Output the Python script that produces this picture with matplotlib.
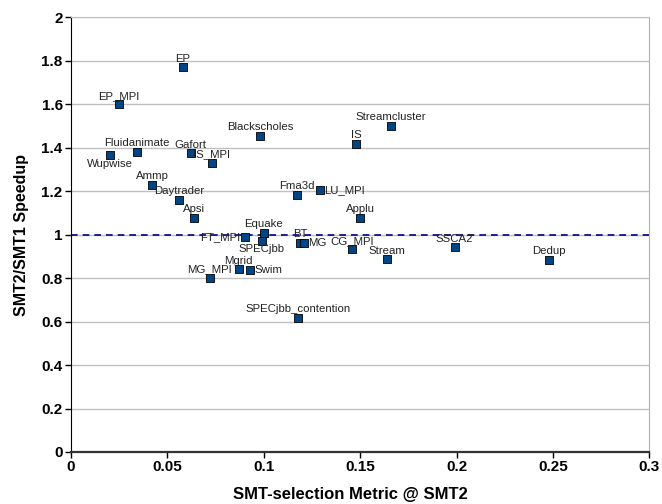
import matplotlib
matplotlib.use("Agg")
import matplotlib.pyplot as plt

# Benchmarks: SMT-selection metric vs. SMT2/SMT1 speedup
names = ["EP", "EP_MPI", "Wupwise", "Fluidanimate", "Gafort", "IS_MPI",
         "Blackscholes", "Ammp", "Daytrader", "Apsi", "Fma3d", "Equake",
         "FT_MPI", "SPECjbb", "Streamcluster", "IS", "LU_MPI", "Applu",
         "BT", "MG", "CG_MPI", "Stream", "Mgrid", "Swim",
         "SPECjbb_contention", "MG_MPI", "SSCA2", "Dedup"]
metric = [0.058, 0.025, 0.020, 0.034, 0.062, 0.073,
          0.098, 0.042, 0.056, 0.064, 0.117, 0.100,
          0.090, 0.099, 0.166, 0.148, 0.129, 0.150,
          0.119, 0.121, 0.146, 0.164, 0.087, 0.093,
          0.118, 0.072, 0.199, 0.248]
speedup = [1.77, 1.60, 1.365, 1.382, 1.375, 1.330,
           1.456, 1.230, 1.161, 1.078, 1.184, 1.009,
           0.988, 0.972, 1.502, 1.419, 1.206, 1.077,
           0.963, 0.963, 0.933, 0.887, 0.842, 0.836,
           0.617, 0.801, 0.943, 0.885]

# where each label goes relative to its point (default: above)
placement = {"Wupwise": "below", "SPECjbb": "below", "FT_MPI": "left",
             "Swim": "right", "MG": "right", "LU_MPI": "right"}

plt.rcParams['font.family'] = ['Liberation Sans', 'DejaVu Sans']

fig = plt.figure(figsize=(6.62, 5.04), dpi=100)
ax = fig.add_axes([0.1073, 0.1032, 0.8735, 0.8625])

ax.set_xlim(0, 0.3)
ax.set_ylim(0, 2)
ax.set_xticks([0, 0.05, 0.1, 0.15, 0.2, 0.25, 0.3])
ax.set_xticklabels(["0", "0.05", "0.1", "0.15", "0.2", "0.25", "0.3"])
ax.set_yticks([0, 0.2, 0.4, 0.6, 0.8, 1, 1.2, 1.4, 1.6, 1.8, 2])
ax.set_yticklabels(["0", "0.2", "0.4", "0.6", "0.8", "1", "1.2", "1.4",
                    "1.6", "1.8", "2"])
for lbl in ax.get_xticklabels() + ax.get_yticklabels():
    lbl.set_fontweight('bold')
    lbl.set_fontsize(11)
ax.tick_params(direction='out', length=4, width=1, color='black', pad=2)

ax.yaxis.grid(True, color='#c0c0c0', linewidth=1)
ax.set_axisbelow(True)
ax.spines['left'].set_color('black')
ax.spines['bottom'].set_color('#333333')
ax.spines['bottom'].set_linewidth(1.6)
ax.spines['right'].set_color('#b0b0b0')
ax.spines['top'].set_color('#c0c0c0')

ax.axhline(1.0, color='#000080', linestyle=(0, (4, 3)), linewidth=1.2, zorder=2)

ax.scatter(metric, speedup, marker='s', s=28, facecolor='#004586',
           edgecolor='black', linewidth=0.6, zorder=3)

for n, x, y in zip(names, metric, speedup):
    where = placement.get(n, "above")
    if where == "above":
        off, ha, va = (0, 2.5), 'center', 'bottom'
    elif where == "below":
        off, ha, va = (0, -2.5), 'center', 'top'
    elif where == "left":
        off, ha, va = (-3, 0), 'right', 'center'
    else:
        off, ha, va = (3, 0), 'left', 'center'
    ax.annotate(n, (x, y), xytext=off, textcoords='offset points',
                ha=ha, va=va, fontsize=8.2, color='#222222', zorder=4)

ax.set_xlabel("SMT-selection Metric @ SMT2", fontsize=12, fontweight='bold',
              labelpad=9, x=0.483)
ax.set_ylabel("SMT2/SMT1 Speedup", fontsize=11.5, fontweight='bold',
              labelpad=9)

fig.savefig("out.png", dpi=100)
